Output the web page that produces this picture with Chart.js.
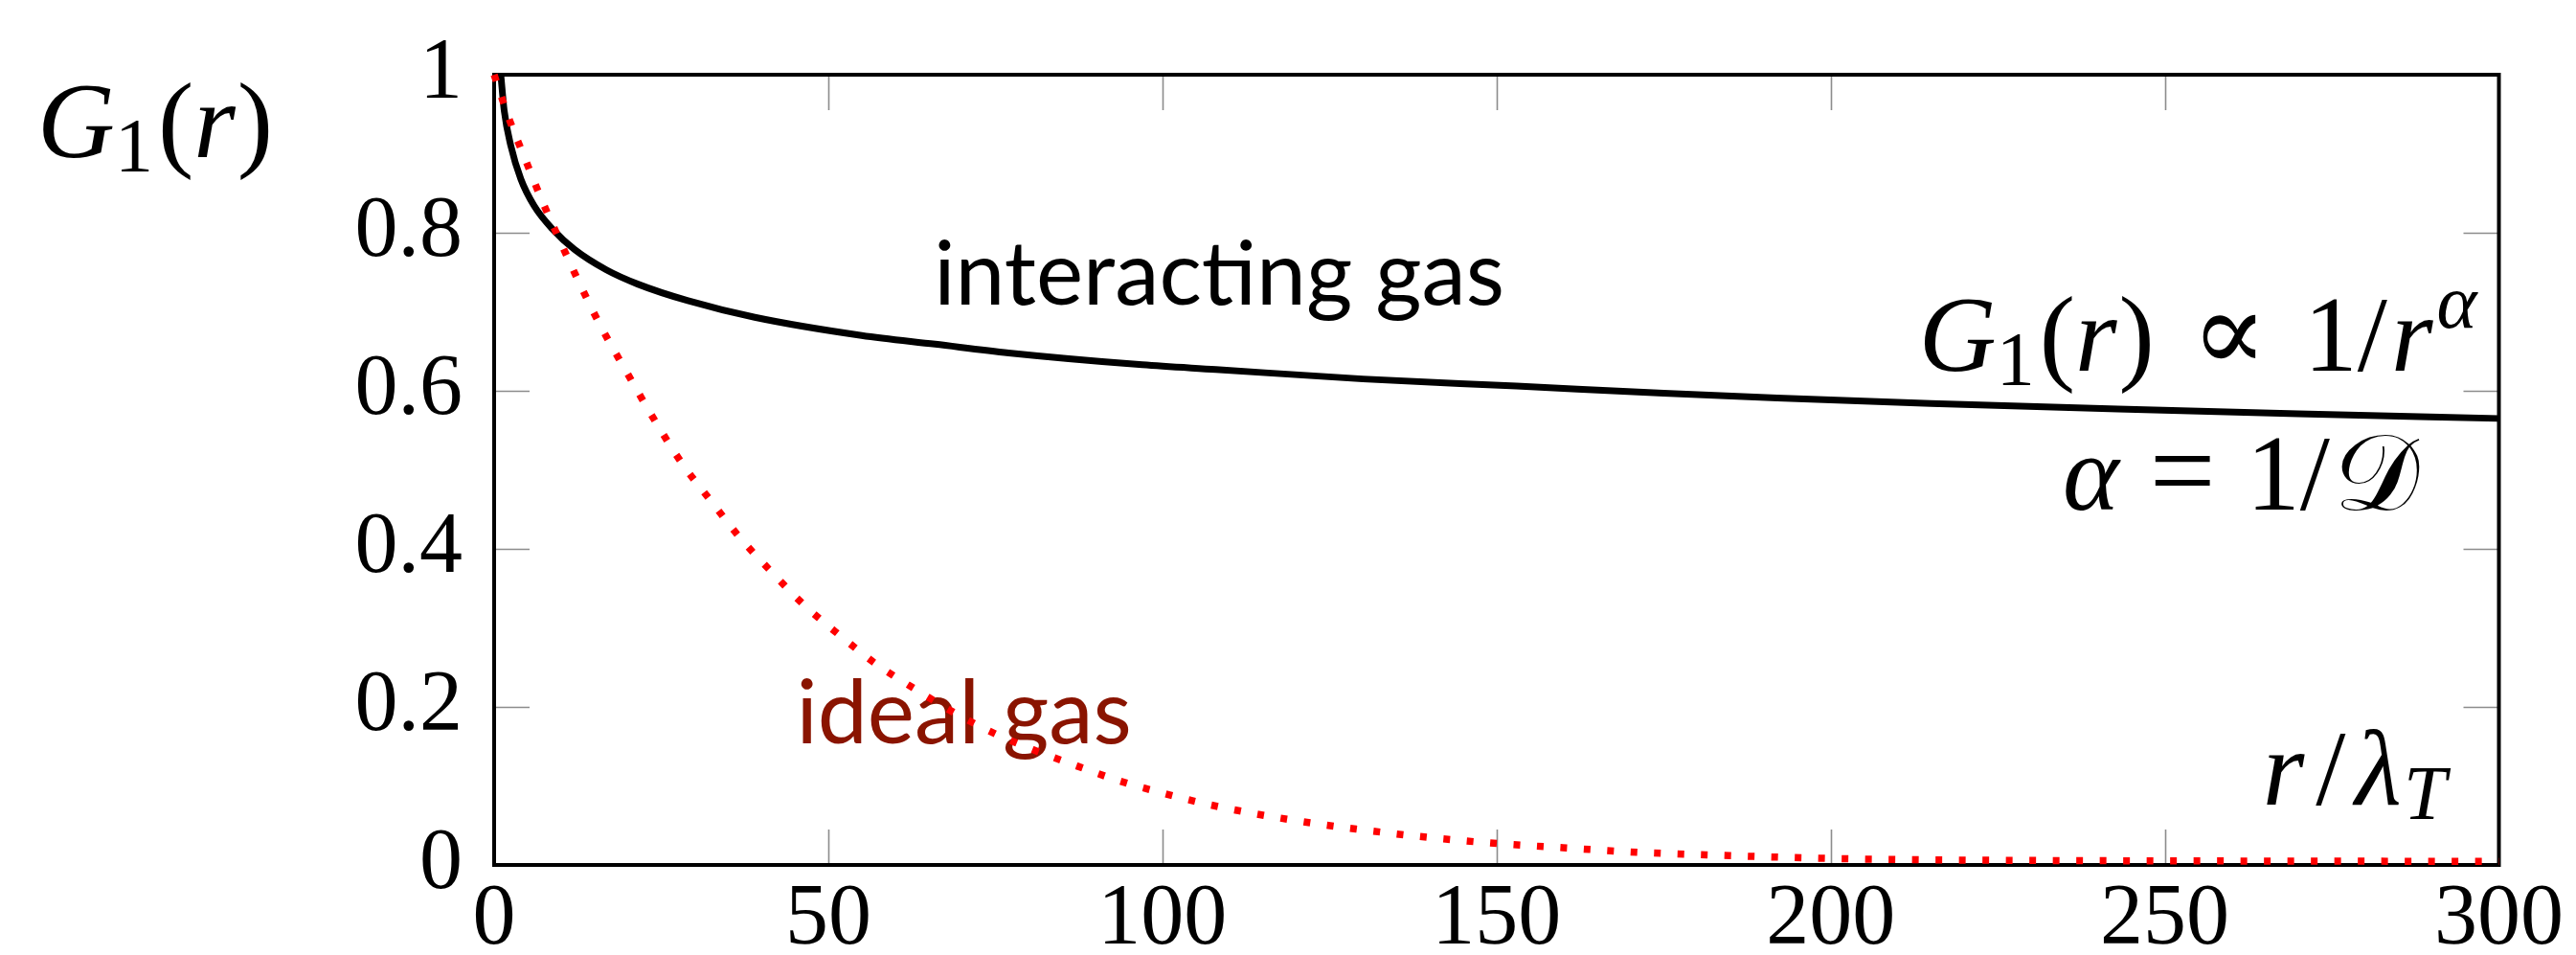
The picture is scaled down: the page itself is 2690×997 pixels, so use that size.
<!DOCTYPE html>
<html>
<head>
<meta charset="utf-8">
<script src="https://cdn.jsdelivr.net/npm/chart.js@4/dist/chart.umd.min.js"></script>
<style>
  html, body { margin: 0; padding: 0; background: #fff; overflow: hidden; }
  canvas { display: block; }
</style>
</head>
<body>
<canvas id="chart" width="2690" height="997"></canvas>
<script>
// Interacting gas: slow algebraic decay of the one-body correlation G1(r)
const rInteracting = [1, 1.5, 2.5, 4, 6, 8.7, 12, 16.8, 21.5, 29, 39, 55, 66, 77, 97, 108, 130, 153, 175, 192, 215, 243, 270, 300];
const gInteracting = [1.000, 0.955, 0.910, 0.868, 0.834, 0.805, 0.779, 0.753, 0.735, 0.714, 0.693, 0.670, 0.659, 0.648, 0.633, 0.627, 0.615, 0.606, 0.597, 0.591, 0.584, 0.577, 0.571, 0.565];

// Ideal gas: fast decay towards zero
const rIdeal = [0, 2.2, 4.8, 7.3, 10, 13, 16, 19.4, 24.5, 28.3, 32.5, 36.7, 41.6, 46.5, 51.8, 57.2, 63.1, 69, 75, 80.6, 87.3, 93.7, 100.5, 107.2, 114.4, 122.4, 129.4, 136.3, 143.3, 150.3, 160.5, 171.2, 181.4, 191.7, 202.3, 215, 235, 260, 300];
const gIdeal = [1.000, 0.945, 0.890, 0.838, 0.787, 0.732, 0.681, 0.630, 0.556, 0.506, 0.460, 0.415, 0.370, 0.328, 0.290, 0.254, 0.222, 0.192, 0.166, 0.146, 0.125, 0.106, 0.090, 0.076, 0.064, 0.053, 0.045, 0.038, 0.032, 0.027, 0.0215, 0.016, 0.0128, 0.010, 0.0078, 0.0065, 0.0055, 0.005, 0.0045];

// Axis ticks
const xTickValues = [0, 50, 100, 150, 200, 250, 300];
const xTickLabels = ['0', '50', '100', '150', '200', '250', '300'];
const yTickValues = [0, 0.2, 0.4, 0.6, 0.8, 1];
const yTickLabels = ['0', '0.2', '0.4', '0.6', '0.8', '1'];

const SERIF = '"Liberation Serif", "DejaVu Serif", serif';
const SANS = 'Lato, "Open Sans", "Noto Sans", sans-serif';
const M = 112;   // math text size
const S = 80;    // sub/superscript size

function toPoints(xs, ys) {
  return xs.map((x, i) => ({ x: x, y: ys[i] }));
}

// Draw a run of math pieces: italic/roman glyphs, sub/superscripts, spacing
function drawMath(ctx, runs, x, y, align) {
  let total = 0;
  runs.forEach(r => {
    ctx.font = (r.it ? 'italic ' : '') + (r.size || M) + 'px ' + SERIF;
    r.w = ctx.measureText(r.t).width;
    total += (r.pre || 0) + r.w + (r.post || 0);
  });
  let cx = align === 'right' ? x - total : (align === 'center' ? x - total / 2 : x);
  ctx.textAlign = 'left';
  ctx.textBaseline = 'alphabetic';
  runs.forEach(r => {
    cx += r.pre || 0;
    ctx.font = (r.it ? 'italic ' : '') + (r.size || M) + 'px ' + SERIF;
    ctx.fillText(r.t, cx, y + (r.dy || 0));
    cx += r.w + (r.post || 0);
  });
}

const frameAndLabels = {
  id: 'frameAndLabels',
  beforeDatasetsDraw(chart) {
    const { ctx, chartArea: a, scales: { x, y } } = chart;
    ctx.save();

    // inward tick marks on all four sides
    const L = 37;
    ctx.strokeStyle = '#8c8c8c';
    ctx.lineWidth = 1.6;
    ctx.beginPath();
    xTickValues.forEach(v => {
      if (v <= x.min || v >= x.max) return;
      const px = Math.round(x.getPixelForValue(v)) + 0.5;
      ctx.moveTo(px, a.bottom); ctx.lineTo(px, a.bottom - L);
      ctx.moveTo(px, a.top); ctx.lineTo(px, a.top + L);
    });
    yTickValues.forEach(v => {
      if (v <= y.min || v >= y.max) return;
      const py = Math.round(y.getPixelForValue(v)) + 0.5;
      ctx.moveTo(a.left, py); ctx.lineTo(a.left + L, py);
      ctx.moveTo(a.right, py); ctx.lineTo(a.right - L, py);
    });
    ctx.stroke();

    // axis box
    ctx.strokeStyle = '#000';
    ctx.lineWidth = 4;
    ctx.strokeRect(a.left, a.top, a.right - a.left, a.bottom - a.top);

    ctx.fillStyle = '#000';
    // y-axis title G_1(r)
    drawMath(ctx, [
      { t: 'G', it: true },
      { t: '1', size: S, dy: 15, post: 5 },
      { t: '(' },
      { t: 'r', it: true, post: 2 },
      { t: ')' }
    ], 39, 164, 'left');

    // curve captions
    ctx.font = '93px ' + SANS;
    ctx.textAlign = 'center';
    ctx.textBaseline = 'alphabetic';
    ctx.fillText('interacting gas', x.getPixelForValue(108.5), y.getPixelForValue(0.709));

    ctx.fillStyle = '#8a1400';
    ctx.fillText('ideal gas', x.getPixelForValue(70.3), y.getPixelForValue(0.154));

    ctx.fillStyle = '#000';
    drawMath(ctx, [
      { t: 'G', it: true },
      { t: '1', size: S, dy: 15, post: 5 },
      { t: '(' },
      { t: 'r', it: true, post: 2 },
      { t: ')', post: 38 },
      { t: '\u221D', size: 118, post: 38 },
      { t: '1' },
      { t: '/', post: 4 },
      { t: 'r', it: true, post: 4 },
      { t: '\u03B1', it: true, size: S, dy: -45 }
    ], x.getPixelForValue(296.7), y.getPixelForValue(0.626), 'right');

    drawMath(ctx, [
      { t: '\u03B1', it: true, post: 32 },
      { t: '=', size: 122, post: 32 },
      { t: '1' },
      { t: '/', post: 4 },
      { t: '\uD835\uDC9F' }
    ], x.getPixelForValue(288), y.getPixelForValue(0.450), 'right');

    drawMath(ctx, [
      { t: 'r', it: true, post: 12 },
      { t: '/', post: 10 },
      { t: '\u03BB', it: true, post: 2 },
      { t: 'T', it: true, size: S, dy: 15 }
    ], x.getPixelForValue(292.1), y.getPixelForValue(0.076), 'right');

    ctx.restore();
  }
};

new Chart(document.getElementById('chart'), {
  type: 'line',
  data: {
    datasets: [
      {
        label: 'ideal gas',
        data: toPoints(rIdeal, gIdeal),
        borderColor: '#ff0000',
        borderWidth: 7.5,
        borderDash: [7, 17.5],
        borderCapStyle: 'butt',
        pointRadius: 0,
        fill: false,
        cubicInterpolationMode: 'monotone',
        clip: 12,
        order: 0
      },
      {
        label: 'interacting gas',
        data: toPoints(rInteracting, gInteracting),
        borderColor: '#000000',
        borderWidth: 7,
        pointRadius: 0,
        fill: false,
        cubicInterpolationMode: 'monotone',
        clip: 12,
        order: 1
      }
    ]
  },
  options: {
    responsive: false,
    devicePixelRatio: 1,
    animation: false,
    events: [],
    layout: { padding: { top: 48, right: 74, bottom: 0, left: 0 } },
    plugins: { legend: { display: false }, tooltip: { enabled: false } },
    scales: {
      x: {
        type: 'linear',
        min: 0,
        max: 300,
        afterBuildTicks: s => { s.ticks = xTickValues.map(v => ({ value: v })); },
        afterFit: s => { s.height = 94; },
        grid: { display: false, drawTicks: false },
        border: { display: false },
        ticks: {
          callback: (v, i) => xTickLabels[i],
          color: '#000',
          padding: 13,
          maxRotation: 0,
          autoSkip: false,
          font: { family: SERIF, size: 90, lineHeight: 1 }
        }
      },
      y: {
        type: 'linear',
        min: 0,
        max: 1,
        afterBuildTicks: s => { s.ticks = yTickValues.map(v => ({ value: v })); },
        afterFit: s => { s.width = 516; },
        grid: { display: false, drawTicks: false },
        border: { display: false },
        ticks: {
          callback: (v, i) => yTickLabels[i],
          color: '#000',
          padding: 33,
          autoSkip: false,
          font: { family: SERIF, size: 90, lineHeight: 1 }
        }
      }
    }
  },
  plugins: [frameAndLabels]
});
</script>
</body>
</html>
